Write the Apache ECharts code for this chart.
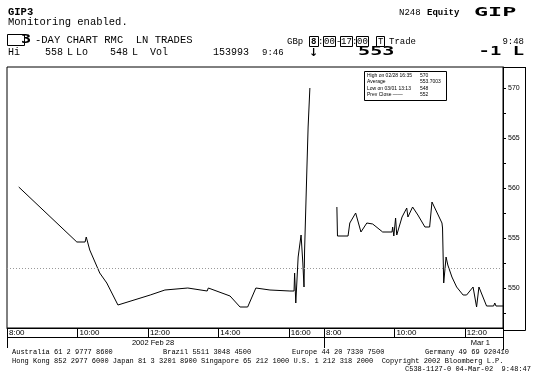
<!DOCTYPE html>
<html><head><meta charset="utf-8">
<script src="https://cdn.jsdelivr.net/npm/echarts@6/dist/echarts.min.js"></script>
<style>html,body{margin:0;padding:0;background:#fff}#c{width:533px;height:374px}</style>
</head><body><div id="c"></div>
<script>
// ---- data ----
const day1Times = ['08:20','09:59','10:13','10:15','10:21','10:38','10:50','11:09','12:04','12:29','13:08','13:41','13:43','14:20','14:37','14:50','15:04','15:28','16:02','16:09','16:10','16:12','16:16','16:21','16:24','16:26','16:27','16:31','16:33','16:36'];
const day1Prices = [560.1,554.6,554.6,555.1,553.8,551.5,550.5,548.3,549.3,549.8,550.0,549.7,550.0,549.2,548.1,548.1,550.0,549.8,549.7,549.7,551.5,548.5,553.1,555.3,552.5,550.1,553.8,562.1,566.1,570.0];
const day2Times = ['08:22','08:23','08:41','08:44','08:54','09:03','09:13','09:23','09:40','09:56','09:57','09:59','10:02','10:04','10:13','10:21','10:23','10:31','10:40','10:52','11:00','11:04','11:21','11:22','11:24','11:28','11:31','11:38','11:46','11:57','12:03','12:14','12:20','12:24','12:37','12:49','12:51','12:53','13:05'];
const day2Prices = [558.1,555.2,555.2,556.5,557.5,555.6,556.5,556.4,555.6,555.6,556.1,555.2,557.0,555.3,557.1,558.0,557.1,558.1,557.3,556.1,556.1,558.6,556.5,556.0,550.5,553.1,552.3,551.1,550.1,549.3,549.3,550.1,548.1,550.1,548.2,548.2,548.5,548.2,548.2];
const prevClose = 552;
const xTickLabels = ['8:00','10:00','12:00','14:00','16:00','8:00','10:00','12:00'];
const xTickDays   = [0,0,0,0,0,1,1,1];
const yTickValues = [550,555,560,565,570];
const yAllTicks = [547.5,550,552.5,555,557.5,560,562.5,565,567.5,570];
const dayLabels = ['2002 Feb 28','Mar 1'];
const legendRows = [['High on 02/28 16:35','570'],['Average','553.7003'],['Low on 03/01 13:13','548'],['Prev Close \u2014\u2014','552']];

// ---- helpers ----
const SESSION = 540; // 8:00-17:00 minutes per day
function toX(day, t){ const p = t.split(':').map(Number); return day*SESSION + (p[0]-8)*60 + p[1]; }
const xMax = toX(1,'13:05');
const d1 = day1Times.map((t,i)=>[toX(0,t), day1Prices[i]]);
const d2 = day2Times.map((t,i)=>[toX(1,t), day2Prices[i]]);
const majorX = xTickLabels.map((l,i)=>toX(xTickDays[i], l.padStart(5,'0')));
const labelMap = {}; majorX.forEach((v,i)=>labelMap[v]=xTickLabels[i]);
const yLabelSet = new Set(yTickValues);

const MONO = '"Liberation Mono", "DejaVu Sans Mono", monospace';
function T(text, x, y, font, o){
  o = o || {};
  return {type:'text', x:x, y:y, scaleX:o.sx||1, silent:true,
    style:{text:text, font:font, fill:'#000', align:o.align||'left', verticalAlign:'middle'}};
}
function L(x1,y1,x2,y2){ return {type:'line', silent:true, shape:{x1:x1,y1:y1,x2:x2,y2:y2}, style:{stroke:'#000', lineWidth:1}}; }
function R(x,y,w,h){ return {type:'rect', silent:true, shape:{x:x,y:y,width:w,height:h}, style:{stroke:'#000', fill:null, lineWidth:1}}; }

const f10 = '10px ' + MONO, f105 = '10.5px ' + MONO, f9 = '9px ' + MONO, f7 = '7px ' + MONO;
const graphic = [
  T('GIP3', 8, 12, 'bold ' + f105),
  T('Monitoring enabled.', 8, 22, f105),
  R(7.5,34.5,17,11),
  T('3', 21, 40, 'bold 13px "DejaVu Sans Mono"', {sx:1.3}),
  T('-DAY CHART RMC  LN TRADES', 35, 40, f105),
  T('Hi', 8, 52, f10), T('558', 45, 52, f10), T('L', 67, 52, f10), T('Lo', 76, 52, f10),
  T('548', 110, 52, f10), T('L', 132, 52, f10), T('Vol', 150, 52, f10), T('153993', 213, 52, f10),
  T('N248', 399, 13, f9), T('Equity', 427, 13, 'bold ' + f9),
  T('GIP', 474, 13, 'bold 13px "DejaVu Sans Mono"', {sx:1.8}),
  T('GBp', 287, 42, f9),
  R(309.5,36.5,9,10), T('8', 311, 42, 'bold ' + f9), T(':', 318, 42, f9),
  R(323.5,36.5,12,10), T('00', 324, 42, f9), T('-', 336, 42, f9),
  R(340.5,36.5,12,10), T('17', 341, 42, f9), T(':', 352, 42, f9),
  R(356.5,36.5,12,10), T('00', 357, 42, f9),
  R(376.5,36.5,8,10), T('T', 378, 42, f9),
  T('Trade', 389, 42, f9),
  T('9:48', 524, 42, f9, {align:'right'}),
  T('9:46', 262, 53, f9), T('\u2193', 309, 53, 'bold 11px "DejaVu Sans"'),
  T('553', 358, 52, 'bold 13px "DejaVu Sans Mono"', {sx:1.55}),
  T('-1 L', 524, 52, 'bold 13px "DejaVu Sans Mono"', {sx:1.45, align:'right'}),
  // frame pieces
  L(503,67.5,525.5,67.5), L(525.5,67,525.5,330.5), L(503,330.5,525.5,330.5),
  L(7,337.5,503,337.5), L(7.5,328,7.5,348), L(503.5,328,503.5,350), L(324.5,337,324.5,348),
  T(dayLabels[0], 153, 342.5, '7.5px "Liberation Sans"', {align:'center'}),
  T(dayLabels[1], 490, 342.5, '7.5px "Liberation Sans"', {align:'right'}),
  // legend box
  {type:'rect', silent:true, shape:{x:364.5,y:71.5,width:82,height:29}, style:{stroke:'#000', fill:'#fff', lineWidth:1}},
  // footer
  T('Australia 61 2 9777 8600', 12, 352, f7), T('Brazil 5511 3048 4500', 163, 352, f7),
  T('Europe 44 20 7330 7500', 292, 352, f7), T('Germany 49 69 920410', 425, 352, f7),
  T('Hong Kong 852 2977 6000 Japan 81 3 3201 8900 Singapore 65 212 1000 U.S. 1 212 318 2000  Copyright 2002 Bloomberg L.P.', 12, 361, f7),
  T('C538-1127-0 04-Mar-02  9:48:47', 531, 369, f7, {align:'right'})
];
legendRows.forEach((r,i)=>{
  graphic.push(T(r[0], 367, 75.5+i*6.5, '5px "Liberation Sans"'));
  graphic.push(T(r[1], 420, 75.5+i*6.5, '5px "Liberation Sans"'));
});

const chart = echarts.init(document.getElementById('c'), null, {renderer:'canvas'});
chart.setOption({
  animation:false,
  backgroundColor:'#fff',
  grid:{left:7, right:30, top:67, bottom:46, show:true, borderColor:'#000', borderWidth:1, backgroundColor:'transparent'},
  xAxis:{type:'value', min:0, max:xMax, position:'bottom',
     axisLine:{show:true, onZero:false, lineStyle:{color:'#000', width:1}},
     axisTick:{show:true, customValues:majorX, length:9, lineStyle:{color:'#000'}},
     axisLabel:{show:true, customValues:majorX, formatter:v=>labelMap[v]||'', align:'left', verticalAlign:'top',
       margin:1, padding:[0,0,0,2], fontSize:8, fontFamily:'Liberation Sans', color:'#000'},
     splitLine:{show:false}},
  yAxis:{type:'value', min:546, max:572.1, position:'right',
     axisLine:{show:true, onZero:false, lineStyle:{color:'#000'}},
     axisTick:{show:true, customValues:yAllTicks, length:3, lineStyle:{color:'#000'}},
     axisLabel:{show:true, customValues:yTickValues, formatter:v=>yLabelSet.has(v)?String(v):'', margin:5, fontSize:7, fontFamily:'Liberation Sans', color:'#000'},
     splitLine:{show:false}},
  series:[
    {type:'line', data:d1, showSymbol:false, symbol:'none',
     lineStyle:{color:'#000', width:1}, silent:true,
     markLine:{silent:true, symbol:'none', label:{show:false},
       lineStyle:{color:'#999', type:[1,2], width:1.2}, data:[{yAxis:prevClose}]}},
    {type:'line', data:d2, showSymbol:false, symbol:'none',
     lineStyle:{color:'#000', width:1}, silent:true}
  ],
  graphic:graphic
});
</script></body></html>
